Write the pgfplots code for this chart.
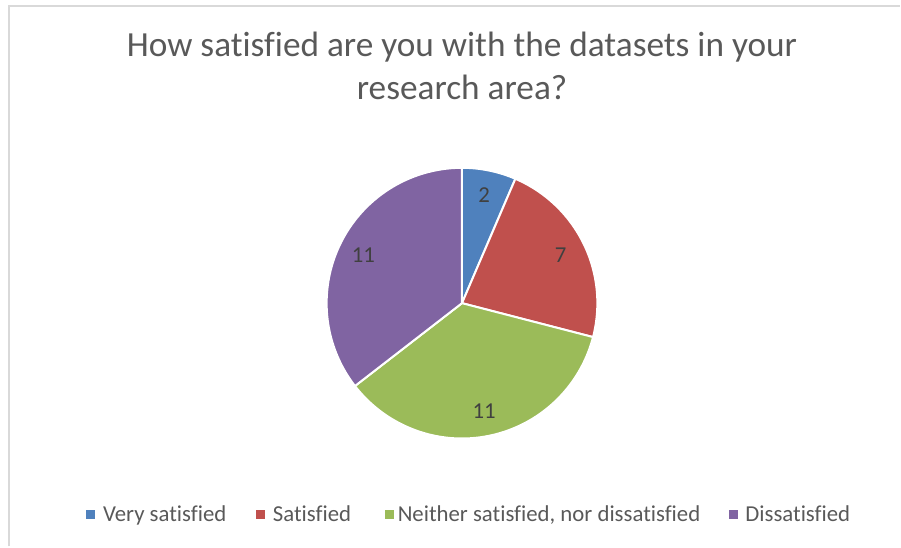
\documentclass[border=0pt]{standalone}
\usepackage{pgfplots}
\pgfplotsset{compat=1.18}
\usepackage{pgfplotstable}
\usepackage{fontspec}
\setmainfont[Ligatures=NoCommon]{Carlito}
\definecolor{cA}{HTML}{4F81BD}
\definecolor{cB}{HTML}{C0504D}
\definecolor{cC}{HTML}{9BBB59}
\definecolor{cD}{HTML}{8064A2}
\definecolor{txt}{HTML}{595959}
\definecolor{lbl}{HTML}{404040}
\definecolor{frame}{HTML}{D9D9D9}

\pgfplotstableread{
value
2
7
11
11
}\piedata
\pgfplotstablegetelem{0}{value}\of\piedata \let\vA\pgfplotsretval
\pgfplotstablegetelem{1}{value}\of\piedata \let\vB\pgfplotsretval
\pgfplotstablegetelem{2}{value}\of\piedata \let\vC\pgfplotsretval
\pgfplotstablegetelem{3}{value}\of\piedata \let\vD\pgfplotsretval
\pgfmathsetmacro\T{\vA+\vB+\vC+\vD}
\pgfmathsetmacro\aA{90}
\pgfmathsetmacro\aB{\aA-360*\vA/\T}
\pgfmathsetmacro\aC{\aB-360*\vB/\T}
\pgfmathsetmacro\aD{\aC-360*\vC/\T}
\pgfmathsetmacro\aE{\aD-360*\vD/\T}
\def\cx{462.5}
\def\cy{243.5}
\def\R{135.5}
\def\L{110}
\newcommand\lfont{\fontsize{22.8bp}{27bp}\selectfont}

\begin{document}
\begin{tikzpicture}
\begin{axis}[at={(0,0)}, anchor=south west, scale only axis,
  width=901bp, height=547bp, xmin=0, xmax=901, ymin=0, ymax=547,
  axis lines=none, clip=false]
\path (axis cs:0,0) rectangle (axis cs:901,547);
\draw[frame, line width=2bp] (axis cs:9,0) -- (axis cs:9,541) -- (axis cs:901,541);
% wedges
\addplot[fill=cA, draw=white, line width=2bp, domain=\aB:\aA, samples=40]
  ({\cx+\R*cos(x)},{\cy+\R*sin(x)}) -- (axis cs:\cx,\cy) -- cycle;
\addplot[fill=cB, draw=white, line width=2bp, domain=\aC:\aB, samples=60]
  ({\cx+\R*cos(x)},{\cy+\R*sin(x)}) -- (axis cs:\cx,\cy) -- cycle;
\addplot[fill=cC, draw=white, line width=2bp, domain=\aD:\aC, samples=80]
  ({\cx+\R*cos(x)},{\cy+\R*sin(x)}) -- (axis cs:\cx,\cy) -- cycle;
\addplot[fill=cD, draw=white, line width=2bp, domain=\aE:\aD, samples=80]
  ({\cx+\R*cos(x)},{\cy+\R*sin(x)}) -- (axis cs:\cx,\cy) -- cycle;
% data labels
\pgfmathsetmacro\mA{(\aA+\aB)/2}
\pgfmathsetmacro\mB{(\aB+\aC)/2}
\pgfmathsetmacro\mC{(\aC+\aD)/2}
\pgfmathsetmacro\mD{(\aD+\aE)/2}
\node[lbl, font=\lfont] at (axis cs:{\cx+\L*cos(\mA)},{\cy+\L*sin(\mA)}) {\vA};
\node[lbl, font=\lfont] at (axis cs:{\cx+\L*cos(\mB)},{\cy+\L*sin(\mB)}) {\vB};
\node[lbl, font=\lfont] at (axis cs:{\cx+\L*cos(\mC)},{\cy+\L*sin(\mC)}) {\vC};
\node[lbl, font=\lfont] at (axis cs:{\cx+\L*cos(\mD)},{\cy+\L*sin(\mD)}) {\vD};
% title
\node[txt, anchor=base, font=\fontsize{35.3bp}{42bp}\selectfont] at (axis cs:462.5,490) {How satisfied are you with the datasets in your};
\node[txt, anchor=base, font=\fontsize{35.3bp}{42bp}\selectfont] at (axis cs:462.5,447) {research area?};
% legend
\fill[cA] (axis cs:86,27.5) rectangle (axis cs:95,36.5);
\node[txt, anchor=base west, inner sep=0pt, font=\lfont] at (axis cs:103,25) {Very satisfied};
\fill[cB] (axis cs:256,27.5) rectangle (axis cs:265,36.5);
\node[txt, anchor=base west, inner sep=0pt, font=\lfont] at (axis cs:273,25) {Satisfied};
\fill[cC] (axis cs:385,27.5) rectangle (axis cs:394,36.5);
\node[txt, anchor=base west, inner sep=0pt, font=\lfont] at (axis cs:398,25) {Neither satisfied, nor dissatisfied};
\fill[cD] (axis cs:730,27.5) rectangle (axis cs:739,36.5);
\node[txt, anchor=base west, inner sep=0pt, font=\lfont] at (axis cs:746,25) {Dissatisfied};
\end{axis}
\end{tikzpicture}
\end{document}
